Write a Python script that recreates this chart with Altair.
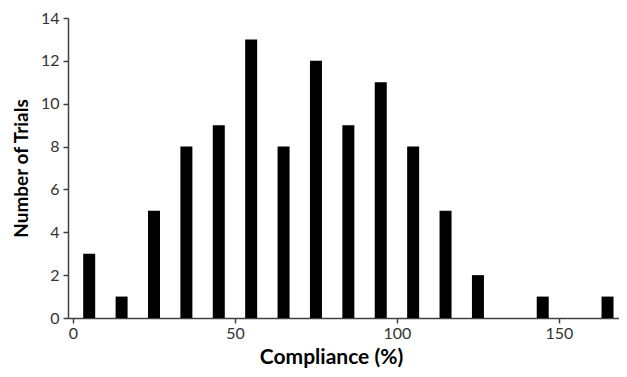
import altair as alt
import pandas as pd

bin_centers = [5, 15, 25, 35, 45, 55, 65, 75, 85, 95, 105, 115, 125, 135, 145, 155, 165]
counts = [3, 1, 5, 8, 9, 13, 8, 12, 9, 11, 8, 5, 2, 0, 1, 0, 1]
x_ticks = [0, 50, 100, 150]
y_ticks = [0, 2, 4, 6, 8, 10, 12, 14]

df = pd.DataFrame({"compliance": bin_centers, "trials": counts})

FONT = "Lato"
AX = "#404040"

chart = alt.Chart(df).mark_bar(size=12, color="black").encode(
    x=alt.X("compliance:Q",
            scale=alt.Scale(domain=[0, 167], nice=False, zero=True),
            axis=alt.Axis(values=x_ticks, title="Compliance (%)", grid=False,
                          domainColor=AX, tickColor=AX, tickSize=5, domainWidth=1.5, tickWidth=1.5,
                          labelFont=FONT, labelFontSize=16, labelColor="#333333", labelPadding=2,
                          titleFont=FONT, titleFontSize=21, titleFontWeight="bold", titleColor="black",
                          titleX=263, titleY=39, titleBaseline="middle", titleAlign="center")),
    y=alt.Y("trials:Q",
            scale=alt.Scale(domain=[0, 14], nice=False),
            axis=alt.Axis(values=y_ticks, title="Number of Trials", grid=False,
                          domainColor=AX, tickColor=AX, tickSize=5, domainWidth=1.5, tickWidth=1.5,
                          labelFont=FONT, labelFontSize=16, labelColor="#333333", labelPadding=4,
                          titleFont=FONT, titleFontSize=19, titleFontWeight="bold", titleColor="black",
                          titleX=-47, titleY=150, titleBaseline="middle", titleAlign="center", titleAngle=270)),
).properties(
    width=551, height=300,
    autosize=alt.AutoSizeParams(type="none"),
    padding={"left": 60, "top": 10, "right": 0, "bottom": 50},
).configure_view(stroke=None)

chart.save("out.html", embed_options={"renderer": "svg", "actions": False})
